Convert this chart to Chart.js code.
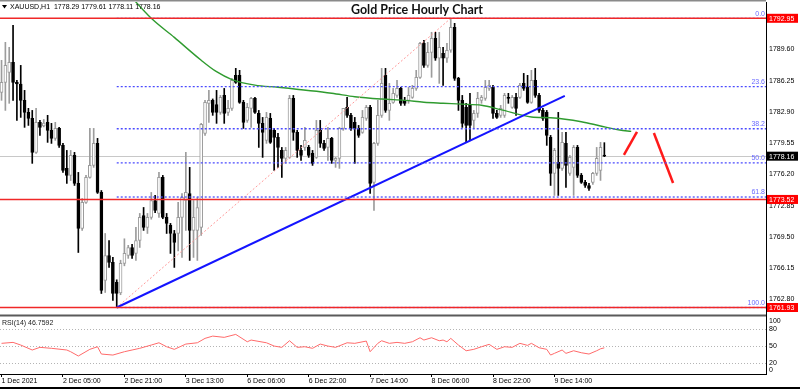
<!DOCTYPE html>
<html>
<head>
<meta charset="utf-8">
<title>Gold Price Hourly Chart</title>
<script src="https://cdn.jsdelivr.net/npm/chart.js@4.4.0/dist/chart.umd.min.js"></script>
<style>
  body { margin: 0; background: #fff; }
  #wrap { width: 800px; height: 389px; }
</style>
</head>
<body>
<div id="wrap"><canvas id="goldChart" width="800" height="389"></canvas></div>
<script>
// XAUUSD H1 candles, one entry per bar
const opens = [1785.01, 1786.08, 1787.15, 1788.23, 1786.08, 1785.90, 1784.15, 1782.86, 1782.22, 1778.57,
  1781.79, 1781.40, 1781.79, 1780.93, 1780.07, 1781.14, 1779.32, 1776.85, 1776.10, 1778.24,
  1775.24, 1770.41, 1773.20, 1775.88, 1777.17, 1779.53, 1774.27, 1764.83, 1767.51, 1766.77,
  1764.62, 1763.50, 1766.66, 1767.51, 1768.37, 1767.73, 1769.12, 1771.80, 1770.52, 1771.59,
  1773.41, 1772.02, 1775.88, 1771.59, 1770.73, 1769.87, 1769.87, 1771.59, 1773.41, 1774.16,
  1770.20, 1770.20, 1770.52, 1780.61, 1783.83, 1784.15, 1783.70, 1782.86, 1784.68, 1782.86,
  1783.29, 1786.83, 1786.83, 1783.93, 1782.00, 1783.29, 1784.36, 1782.75, 1781.68, 1779.86,
  1782.22, 1780.93, 1780.18, 1778.78, 1777.92, 1778.03, 1784.36, 1780.71, 1778.78, 1779.10,
  1779.10, 1778.46, 1778.03, 1780.93, 1779.53, 1779.10, 1780.07, 1777.71, 1777.92, 1781.14,
  1783.40, 1782.54, 1781.79, 1781.14, 1780.71, 1782.22, 1783.40, 1775.35, 1779.53, 1782.54,
  1786.83, 1783.07, 1783.93, 1784.68, 1785.43, 1784.15, 1784.15, 1784.47, 1785.43, 1786.62,
  1790.27, 1787.90, 1789.30, 1790.80, 1788.66, 1789.19, 1788.66, 1789.52, 1791.98, 1786.51,
  1784.15, 1783.40, 1783.61, 1782.00, 1782.75, 1784.15, 1784.36, 1785.43, 1785.54, 1782.75,
  1782.54, 1782.54, 1784.47, 1783.40, 1784.47, 1784.47, 1785.97, 1785.54, 1783.93, 1786.29,
  1784.68, 1783.07, 1782.86, 1780.18, 1776.31, 1777.49, 1776.85, 1779.53, 1776.31, 1776.96,
  1779.10, 1776.10, 1775.35, 1775.02, 1775.35, 1776.31, 1776.63, 1778.29];
const highs = [1788.44, 1790.37, 1789.84, 1792.20, 1786.29, 1787.90, 1785.22, 1783.29, 1783.07, 1783.29,
  1782.00, 1782.10, 1782.54, 1781.68, 1781.79, 1781.25, 1779.53, 1778.78, 1778.78, 1778.57,
  1776.42, 1773.60, 1776.10, 1781.14, 1781.14, 1780.07, 1774.48, 1769.87, 1769.12, 1767.30,
  1764.90, 1767.00, 1769.30, 1768.60, 1768.70, 1770.52, 1772.02, 1772.66, 1772.02, 1774.27,
  1773.95, 1776.42, 1776.10, 1772.02, 1770.95, 1770.20, 1773.20, 1774.16, 1778.57, 1776.96,
  1773.41, 1773.74, 1781.68, 1784.15, 1785.22, 1784.30, 1785.22, 1784.68, 1785.43, 1784.15,
  1786.51, 1787.58, 1787.37, 1784.15, 1783.83, 1784.47, 1784.47, 1783.07, 1782.32, 1782.86,
  1782.75, 1781.14, 1780.61, 1779.10, 1779.10, 1784.68, 1784.68, 1780.93, 1779.32, 1781.25,
  1779.32, 1778.78, 1782.00, 1782.00, 1779.86, 1781.25, 1780.18, 1778.03, 1781.25, 1783.29,
  1784.47, 1782.75, 1782.32, 1781.46, 1783.07, 1783.61, 1783.61, 1779.64, 1784.15, 1787.58,
  1787.58, 1785.97, 1785.43, 1786.29, 1785.54, 1784.47, 1785.54, 1785.76, 1787.37, 1790.37,
  1790.59, 1790.37, 1791.45, 1791.45, 1791.45, 1789.84, 1790.27, 1792.95, 1792.41, 1786.62,
  1784.68, 1783.83, 1784.90, 1783.07, 1785.01, 1784.68, 1786.29, 1786.29, 1785.76, 1783.07,
  1783.61, 1784.90, 1784.90, 1784.68, 1784.90, 1785.97, 1787.04, 1786.83, 1787.37, 1787.58,
  1784.90, 1783.29, 1783.07, 1780.39, 1779.00, 1782.86, 1780.71, 1780.71, 1778.24, 1779.32,
  1779.32, 1776.31, 1775.56, 1775.24, 1776.42, 1779.10, 1779.64, 1779.61];
const lows = [1784.15, 1783.07, 1783.83, 1784.15, 1782.00, 1782.32, 1781.25, 1781.46, 1777.39, 1778.46,
  1780.39, 1781.30, 1779.64, 1779.53, 1779.86, 1779.10, 1776.42, 1775.24, 1775.55, 1775.02,
  1767.83, 1770.20, 1773.10, 1775.80, 1776.96, 1774.16, 1763.43, 1763.54, 1766.23, 1762.68,
  1761.93, 1763.30, 1766.40, 1767.20, 1767.20, 1766.98, 1768.37, 1770.20, 1769.87, 1771.40,
  1772.10, 1771.59, 1771.45, 1769.87, 1767.73, 1766.23, 1768.00, 1767.30, 1770.20, 1766.98,
  1767.30, 1766.98, 1769.66, 1780.39, 1781.79, 1782.54, 1781.68, 1782.65, 1781.68, 1782.54,
  1783.07, 1785.97, 1783.83, 1781.14, 1781.79, 1781.25, 1782.75, 1779.10, 1778.03, 1779.53,
  1779.53, 1776.63, 1776.96, 1775.88, 1777.39, 1777.92, 1779.86, 1778.03, 1777.71, 1778.78,
  1778.03, 1777.17, 1777.92, 1779.10, 1778.78, 1777.71, 1777.39, 1776.96, 1776.85, 1780.93,
  1782.32, 1780.93, 1777.39, 1780.18, 1780.61, 1782.00, 1774.16, 1772.34, 1779.32, 1782.32,
  1782.86, 1782.00, 1783.83, 1784.47, 1783.61, 1783.61, 1783.83, 1784.36, 1785.22, 1786.51,
  1787.69, 1787.69, 1786.62, 1788.44, 1785.97, 1785.76, 1788.23, 1789.30, 1786.29, 1783.07,
  1781.25, 1779.64, 1779.86, 1781.14, 1782.32, 1783.83, 1784.15, 1785.22, 1782.22, 1782.22,
  1782.32, 1782.32, 1783.83, 1783.29, 1782.54, 1784.36, 1785.22, 1783.83, 1783.83, 1784.47,
  1782.86, 1782.00, 1779.32, 1775.02, 1773.95, 1773.95, 1776.63, 1774.80, 1776.10, 1773.95,
  1775.88, 1775.24, 1774.80, 1774.48, 1775.13, 1776.10, 1775.56, 1778.11];
const closes = [1786.08, 1787.90, 1788.23, 1786.08, 1785.90, 1784.15, 1782.86, 1782.22, 1778.57, 1781.79,
  1781.25, 1781.70, 1780.93, 1780.07, 1781.14, 1779.32, 1776.63, 1776.10, 1778.24, 1775.24,
  1770.41, 1773.20, 1775.88, 1777.17, 1779.53, 1774.27, 1763.76, 1767.51, 1766.77, 1763.43,
  1763.43, 1766.66, 1767.73, 1768.37, 1767.51, 1769.12, 1771.59, 1770.52, 1771.59, 1773.41,
  1772.34, 1775.88, 1771.59, 1770.95, 1769.87, 1768.91, 1771.59, 1773.74, 1774.27, 1770.20,
  1771.59, 1772.66, 1781.57, 1783.93, 1784.15, 1782.86, 1782.86, 1784.47, 1782.75, 1783.29,
  1786.29, 1786.08, 1783.93, 1781.79, 1783.40, 1784.36, 1782.86, 1781.68, 1780.71, 1782.32,
  1779.64, 1780.18, 1779.10, 1777.92, 1778.78, 1784.36, 1780.71, 1778.78, 1778.24, 1779.86,
  1778.24, 1777.39, 1780.93, 1779.53, 1779.00, 1780.07, 1777.71, 1777.92, 1781.14, 1783.29,
  1782.54, 1781.14, 1781.14, 1780.39, 1782.32, 1783.40, 1775.24, 1779.53, 1782.54, 1785.97,
  1783.07, 1783.83, 1784.90, 1785.43, 1783.83, 1783.83, 1784.68, 1785.43, 1786.62, 1790.27,
  1787.90, 1789.30, 1790.80, 1788.66, 1789.84, 1788.66, 1789.52, 1791.98, 1786.51, 1784.15,
  1781.68, 1781.46, 1781.46, 1782.75, 1784.36, 1784.47, 1785.54, 1785.76, 1782.75, 1782.32,
  1783.29, 1784.68, 1784.36, 1784.47, 1783.29, 1785.76, 1785.43, 1783.93, 1786.29, 1784.68,
  1783.07, 1782.22, 1780.39, 1776.31, 1778.78, 1776.85, 1779.64, 1777.17, 1778.03, 1779.10,
  1776.10, 1775.35, 1775.02, 1774.70, 1776.31, 1777.92, 1779.10, 1778.16];

// moving average (green), sampled along the curve: bar index -> price
const maIdx = [33, 39, 45, 52, 56, 60, 66, 72, 86, 92, 99, 105, 110, 115, 120, 125, 130, 138, 143, 151, 156, 161, 164];
const maVals = [1795.60, 1792.95, 1790.90, 1788.45, 1787.22, 1786.38, 1785.78, 1785.55, 1784.91, 1784.54, 1784.29,
  1784.15, 1783.95, 1783.84, 1783.74, 1783.62, 1783.15, 1782.37, 1782.28, 1781.86, 1781.40, 1780.97, 1780.82];

// RSI(14) sampled along the lower pane: bar index -> value
const rsiIdx = [0, 3, 5, 8, 10, 13, 17, 18, 20, 23, 25, 26, 29, 32, 34, 36, 39, 41, 43, 45, 48, 51, 53, 55, 58, 61,
  64, 65, 69, 71, 73, 75, 77, 79, 81, 83, 85, 87, 90, 92, 95, 96, 98, 99, 101, 103, 105, 107, 109, 110, 112, 114,
  115, 116, 117, 119, 121, 123, 125, 127, 129, 131, 133, 135, 137, 138, 140, 142, 143, 144, 146, 147, 149, 151,
  153, 155, 156, 157];
const rsiVals = [54.7, 56.4, 51.7, 42.9, 47.6, 45.9, 42.9, 39.9, 32.3, 44.1, 48.7, 35.8, 34.0, 39.9, 42.9, 45.9,
  51.7, 55.7, 48.7, 44.1, 53.4, 55.7, 63.5, 67.5, 65.3, 70.5, 57.5, 60.5, 55.7, 49.9, 47.6, 59.3, 47.6, 48.7, 45.9,
  53.4, 49.9, 47.6, 55.7, 54.7, 58.7, 39.9, 54.7, 59.3, 54.7, 56.4, 54.7, 57.5, 64.6, 60.5, 64.6, 59.3, 60.5, 57.5,
  63.5, 51.7, 41.6, 44.1, 48.7, 52.9, 44.1, 48.7, 47.6, 54.7, 51.1, 54.7, 46.9, 44.1, 34.0, 37.0, 42.9, 37.0, 41.6,
  38.1, 35.8, 41.6, 45.0, 46.7592];

// axis ticks and labels
const priceTicks = [1762.80, 1766.15, 1769.50, 1772.85, 1776.20, 1779.55, 1782.90, 1786.25, 1789.60];
const rsiTicks = [100, 80, 50, 20, 0];
const rsiLevels = [80, 50, 20];
const timeIdx = [0, 16, 32, 48, 64, 80, 96, 112, 128, 144];
const timeLabels = ['1 Dec 2021', '2 Dec 05:00', '2 Dec 21:00', '3 Dec 13:00', '6 Dec 06:00',
  '6 Dec 22:00', '7 Dec 14:00', '8 Dec 06:00', '8 Dec 22:00', '9 Dec 14:00'];

// drawn objects: fibonacci retracement, support lines, trend line, projection
const fibNames = ['0.0', '23.6', '38.2', '50.0', '61.8', '100.0'];
const fibPrices = [1792.95, 1785.63, 1781.10, 1777.44, 1773.78, 1761.93];
const redLevels = [1792.95, 1773.52, 1761.93];
const lastPrice = 1778.16;
const swingLow = { idx: 30, price: 1761.93 };
const swingHigh = { idx: 117, price: 1792.95 };
const trendEnd = { idx: 146.7, price: 1784.62 };
const arrowUp = [{ x: 162.1, y: 1778.29 }, { x: 165.5, y: 1780.76 }];
const arrowDown = [{ x: 169.9, y: 1780.65 }, { x: 174.9, y: 1775.28 }];

const chartTitle = 'Gold Price Hourly Chart';
const symbolName = 'XAUUSD,H1';
const rsiName = 'RSI(14)';

// visible ranges of the panes
const xMin = -0.4, xMax = 199.1;
const priceMin = 1761.125, priceMax = 1794.698;
const rsiMin = 0.5, rsiMax = 104.8;

const FONT = 'Liberation Sans';
const bullEdge = '#9c9c9c';
const isBull = opens.map((o, i) => closes[i] >= o);

function hline(ctx, x1, x2, y) {
  ctx.beginPath();
  ctx.moveTo(x1, y);
  ctx.lineTo(x2, y);
  ctx.stroke();
}

// extra drawing: level lines, labels, frame
const overlay = {
  id: 'overlay',
  beforeDatasetsDraw(chart) {
    const { ctx, chartArea: a, scales: { y, rsi } } = chart;
    ctx.save();
    ctx.lineWidth = 1;
    ctx.strokeStyle = '#c8c8c8';
    hline(ctx, a.left, a.right, Math.round(y.getPixelForValue(lastPrice)) + 0.5);
    ctx.strokeStyle = '#b4b4b4';
    ctx.setLineDash([1, 2]);
    rsiLevels.forEach(v => hline(ctx, a.left, a.right, Math.round(rsi.getPixelForValue(v)) + 0.5));
    ctx.restore();
  },
  afterDatasetsDraw(chart) {
    const { ctx, chartArea: a, scales: { x, y } } = chart;
    ctx.save();
    // fibonacci levels
    const fx = x.getPixelForValue(swingLow.idx);
    ctx.strokeStyle = '#4b4bff';
    ctx.lineWidth = 1.3;
    ctx.setLineDash([2, 2]);
    fibPrices.forEach(p => hline(ctx, fx, a.right, y.getPixelForValue(p)));
    ctx.setLineDash([]);
    // red support / resistance lines
    ctx.strokeStyle = 'rgb(240,40,40)';
    ctx.lineWidth = 1.6;
    redLevels.forEach(p => hline(ctx, a.left, a.right, y.getPixelForValue(p)));
    // fib labels
    ctx.fillStyle = '#6a6aff';
    ctx.font = '7px ' + FONT;
    ctx.textAlign = 'right';
    ctx.textBaseline = 'bottom';
    fibNames.forEach((n, k) => ctx.fillText(n, a.right - 1, y.getPixelForValue(fibPrices[k]) - 1));
    // pane separator
    ctx.fillStyle = '#5a5a5a';
    ctx.fillRect(a.left, y.bottom - 0.5, a.right - a.left, 2);
    ctx.restore();
  },
  afterDraw(chart) {
    const { ctx, chartArea: a, scales: { y, rsi } } = chart;
    const last = opens.length - 1;
    ctx.save();
    // price boxes on the axis
    ctx.font = '7px ' + FONT;
    ctx.textBaseline = 'middle';
    ctx.textAlign = 'left';
    const box = (p, bg) => {
      const py = y.getPixelForValue(p);
      ctx.fillStyle = bg;
      ctx.fillRect(a.right + 1, py - 4.5, 31, 9);
      ctx.fillStyle = '#fff';
      ctx.fillText(p.toFixed(2), a.right + 3, py + 0.5);
    };
    redLevels.forEach(p => box(p, '#ff0000'));
    box(lastPrice, '#000');
    // RSI axis labels
    ctx.fillStyle = '#000';
    rsiTicks.forEach(v => {
      const ry = Math.min(Math.max(rsi.getPixelForValue(v), rsi.top + 6), rsi.bottom - 4);
      ctx.fillText(String(v), a.right + 3, ry);
    });
    // RSI caption
    ctx.fillStyle = '#222';
    ctx.fillText(rsiName + ' ' + rsiVals[rsiVals.length - 1].toFixed(4), 2, rsi.top + 8);
    // symbol caption with last OHLC
    ctx.fillStyle = '#000';
    ctx.beginPath();
    ctx.moveTo(2, 5); ctx.lineTo(7, 5); ctx.lineTo(4.5, 8.5); ctx.closePath();
    ctx.fill();
    ctx.fillText(symbolName + '  ' + [opens[last], highs[last], lows[last], closes[last]]
      .map(v => v.toFixed(2)).join(' '), 10, 7);
    // title
    ctx.font = 'bold 13px Lato';
    ctx.textAlign = 'center';
    ctx.fillStyle = '#111';
    ctx.fillText(chartTitle, 417, 9.5, 132);
    // frame
    ctx.fillStyle = '#8a8a8a';
    ctx.fillRect(0, 0, a.right, 1.5);
    ctx.fillStyle = '#000';
    ctx.fillRect(0, 387, 800, 2);
    ctx.restore();
  }
};

const sizeY = s => { s.width = 34; s.paddingTop = 0; s.paddingBottom = 0; };

new Chart(document.getElementById('goldChart'), {
  type: 'bar',
  data: {
    datasets: [
      { type: 'line', data: arrowUp, borderColor: '#ff1a1a', borderWidth: 2.5, pointRadius: 0, yAxisID: 'y' },
      { type: 'line', data: arrowDown, borderColor: '#ff1a1a', borderWidth: 2.5, pointRadius: 0, yAxisID: 'y' },
      {
        type: 'line', data: [{ x: swingLow.idx, y: swingLow.price }, { x: trendEnd.idx, y: trendEnd.price }],
        borderColor: '#1414ff', borderWidth: 2, pointRadius: 0, yAxisID: 'y'
      },
      {
        type: 'line', data: [{ x: swingLow.idx, y: swingLow.price }, { x: swingHigh.idx, y: swingHigh.price }],
        borderColor: '#ff9a9a', borderWidth: 1, borderDash: [2, 2], pointRadius: 0, yAxisID: 'y'
      },
      {
        type: 'line', data: maIdx.map((v, k) => ({ x: v, y: maVals[k] })),
        borderColor: '#2f9b2f', borderWidth: 1.4, pointRadius: 0, cubicInterpolationMode: 'monotone', yAxisID: 'y'
      },
      {
        // candle bodies
        data: opens.map((o, i) => ({ x: i, y: [o, closes[i]] })),
        backgroundColor: isBull.map(b => b ? '#ffffff' : '#000000'),
        borderColor: isBull.map(b => b ? bullEdge : '#000000'),
        borderWidth: 1, borderSkipped: false, barThickness: 3, minBarLength: 1, grouped: false, yAxisID: 'y'
      },
      {
        // candle wicks
        data: lows.map((l, i) => ({ x: i, y: [l, highs[i]] })),
        backgroundColor: isBull.map(b => b ? bullEdge : '#000000'),
        borderWidth: 0, barThickness: 1, grouped: false, yAxisID: 'y'
      },
      {
        type: 'line', data: rsiIdx.map((v, k) => ({ x: v, y: rsiVals[k] })),
        borderColor: '#ff6a6a', borderWidth: 1, pointRadius: 0, yAxisID: 'rsi'
      }
    ]
  },
  options: {
    responsive: false,
    animation: false,
    events: [],
    layout: { padding: { top: 2, left: 0, right: 0, bottom: 0 } },
    plugins: { legend: { display: false }, tooltip: { enabled: false } },
    scales: {
      x: {
        type: 'linear', position: 'bottom', min: xMin, max: xMax, offset: false,
        afterBuildTicks: s => { s.ticks = timeIdx.map(v => ({ value: v })); },
        afterFit: s => { s.height = 15; s.paddingLeft = 0; s.paddingRight = 0; },
        grid: { display: true, drawOnChartArea: false, offset: false, tickLength: 3, color: '#000' },
        border: { display: true, color: '#000' },
        ticks: {
          autoSkip: false, maxRotation: 0, align: 'start', padding: 0, color: '#000',
          font: { family: FONT, size: 7 },
          callback: v => { const k = timeIdx.indexOf(v); return k >= 0 ? timeLabels[k] : ''; }
        }
      },
      y: {
        type: 'linear', position: 'right', stack: 'panes', stackWeight: 313,
        min: priceMin, max: priceMax,
        afterBuildTicks: s => { s.ticks = priceTicks.map(v => ({ value: v })); },
        afterFit: sizeY,
        grid: { display: false, drawTicks: false },
        border: { display: true, color: '#000' },
        ticks: {
          autoSkip: false, padding: 3, color: '#000', font: { family: FONT, size: 7 },
          callback: v => v.toFixed(2)
        }
      },
      rsi: {
        type: 'linear', position: 'right', stack: 'panes', stackWeight: 59,
        min: rsiMin, max: rsiMax,
        afterFit: sizeY,
        grid: { display: false, drawTicks: false },
        border: { display: true, color: '#000' },
        ticks: { display: false }
      }
    }
  },
  plugins: [overlay]
});
</script>
</body>
</html>
